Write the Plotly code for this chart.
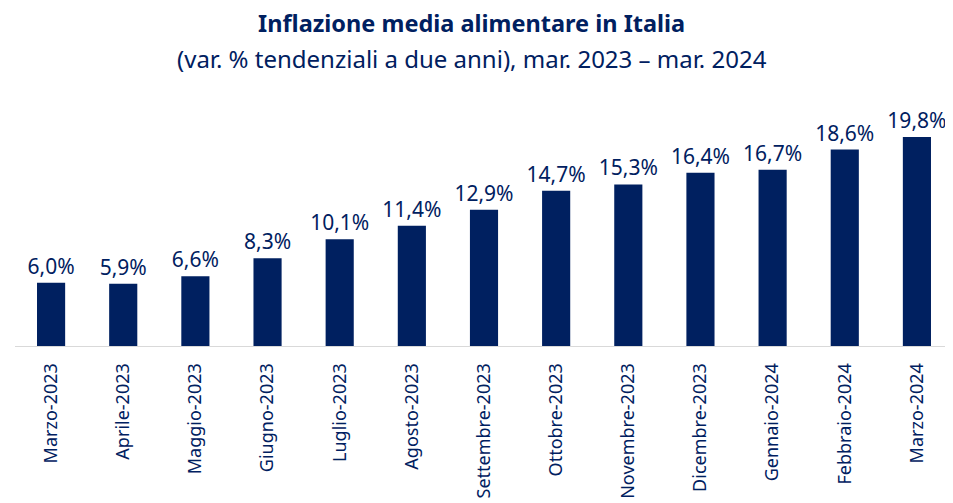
import plotly.graph_objects as go

categories = ["Marzo-2023", "Aprile-2023", "Maggio-2023", "Giugno-2023", "Luglio-2023",
              "Agosto-2023", "Settembre-2023", "Ottobre-2023", "Novembre-2023",
              "Dicembre-2023", "Gennaio-2024", "Febbraio-2024", "Marzo-2024"]
values = [6.0, 5.9, 6.6, 8.3, 10.1, 11.4, 12.9, 14.7, 15.3, 16.4, 16.7, 18.6, 19.8]
labels = [f"{v:.1f}%".replace(".", ",") for v in values]

title = "Inflazione media alimentare in Italia"
subtitle = "(var. % tendenziali a due anni), mar. 2023 – mar. 2024"

NAVY = "#002060"
FONT = "Noto Sans"

# page has an 8px body margin; work in figure coordinates
W, H = 945, 495
T, B = 92, 157

fig = go.Figure(go.Bar(
    x=categories, y=values, text=labels, textposition="outside",
    textfont=dict(family=FONT, size=21, color=NAVY),
    constraintext="none",
    marker=dict(color=NAVY, line=dict(width=0)),
    width=0.39, cliponaxis=False,
))

fig.update_layout(
    width=W, height=H,
    margin=dict(l=7, r=0, t=T, b=B, autoexpand=False),
    paper_bgcolor="white", plot_bgcolor="white",
    showlegend=False,
    xaxis=dict(showline=True, linecolor="#d9d9d9", linewidth=1, tickangle=-90,
               tickfont=dict(family=FONT, size=18, color=NAVY), ticks="",
               ticklabelstandoff=9,
               automargin=False, showgrid=False),
    yaxis=dict(range=[0, 23.3], visible=False, showgrid=False),
    annotations=[
        dict(text=f"<b>{title}</b>", x=0.487, y=15, xref="paper", yref="paper",
             showarrow=False, font=dict(family=FONT, size=23.5, color=NAVY),
             xanchor="center", yanchor="middle"),
        dict(text=subtitle, x=0.487, y=50, xref="paper", yref="paper",
             showarrow=False, font=dict(family=FONT, size=24, color=NAVY),
             xanchor="center", yanchor="middle"),
    ],
)
plot_h = H - T - B
for a in fig.layout.annotations:
    a.y = (H - B - a.y) / plot_h

fig.write_html("out.html")
